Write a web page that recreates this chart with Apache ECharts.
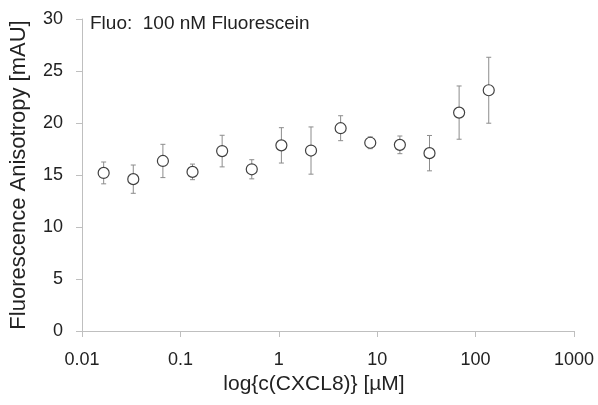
<!DOCTYPE html>
<html><head><meta charset="utf-8">
<script src="https://cdn.jsdelivr.net/npm/echarts@6/dist/echarts.min.js"></script>
<style>html,body{margin:0;padding:0;background:#fff}#c{width:598px;height:405px}</style>
</head><body><div id="c"></div>
<script>
var concentrations = [0.0166, 0.0332, 0.0664, 0.1328, 0.2656, 0.53125, 1.0625, 2.125, 4.25, 8.5, 17, 34, 68, 136];
var anisotropy = [15.2, 14.6, 16.35, 15.3, 17.3, 15.55, 17.85, 17.35, 19.5, 18.1, 17.9, 17.1, 21.0, 23.15];
var errors = [1.05, 1.36, 1.6, 0.75, 1.52, 0.92, 1.7, 2.27, 1.2, 0.57, 0.85, 1.7, 2.56, 3.17];
var titleText = 'Fluo:  100 nM Fluorescein';
var xTitle = 'log{c(CXCL8)} [\u00B5M]';
var yTitle = 'Fluorescence Anisotropy [mAU]';

var FONT = 'Liberation Sans';
var scatterData = concentrations.map(function (c, i) { return [c, anisotropy[i]]; });
var errData = concentrations.map(function (c, i) { return [c, anisotropy[i] - errors[i], anisotropy[i] + errors[i]]; });

var chart = echarts.init(document.getElementById('c'));
chart.setOption({
  animation: false,
  backgroundColor: '#fff',
  title: { text: titleText, left: 85, top: 9, padding: 5, textStyle: { fontFamily: FONT, fontSize: 19, fontWeight: 'normal', color: '#222' } },
  grid: { left: 81, right: 24, top: 19, bottom: 74 },
  xAxis: {
    type: 'log', logBase: 10, min: 0.01, max: 1000,
    name: xTitle, nameLocation: 'middle', nameGap: 42,
    nameTextStyle: { fontFamily: FONT, fontSize: 21, color: '#222', padding: [0, 28, 0, 0] },
    axisLine: { lineStyle: { color: '#bfbfbf', width: 1 } },
    axisTick: { show: true, inside: false, length: 6, lineStyle: { color: '#bfbfbf' } },
    minorTick: { show: false },
    splitLine: { show: false },
    axisLabel: { fontFamily: FONT, fontSize: 18, color: '#222', margin: 20,
      formatter: function (v) { return String(+v.toPrecision(3)); } }
  },
  yAxis: {
    type: 'value', min: 0, max: 30, interval: 5,
    name: yTitle, nameLocation: 'middle', nameGap: 52, nameRotate: 90,
    nameTextStyle: { fontFamily: FONT, fontSize: 22, color: '#222' },
    axisLine: { show: true, lineStyle: { color: '#bfbfbf', width: 1 } },
    axisTick: { show: true, inside: false, length: 6, lineStyle: { color: '#bfbfbf' } },
    splitLine: { show: false },
    axisLabel: { fontFamily: FONT, fontSize: 18, color: '#222', margin: 19 }
  },
  series: [
    {
      type: 'custom',
      data: errData,
      z: 1,
      renderItem: function (params, api) {
        var x = api.value(0);
        var lo = api.coord([x, api.value(1)]);
        var hi = api.coord([x, api.value(2)]);
        var w = 2.5;
        var st = { stroke: '#8c8c8c', lineWidth: 1 };
        return { type: 'group', children: [
          { type: 'line', shape: { x1: lo[0], y1: lo[1], x2: hi[0], y2: hi[1] }, style: st },
          { type: 'line', shape: { x1: lo[0] - w, y1: lo[1], x2: lo[0] + w, y2: lo[1] }, style: st },
          { type: 'line', shape: { x1: hi[0] - w, y1: hi[1], x2: hi[0] + w, y2: hi[1] }, style: st }
        ] };
      }
    },
    {
      type: 'scatter',
      data: scatterData,
      z: 3,
      symbol: 'circle', symbolSize: 11,
      itemStyle: { color: '#fff', borderColor: '#404040', borderWidth: 1.2, opacity: 1 }
    }
  ]
});
</script></body></html>
